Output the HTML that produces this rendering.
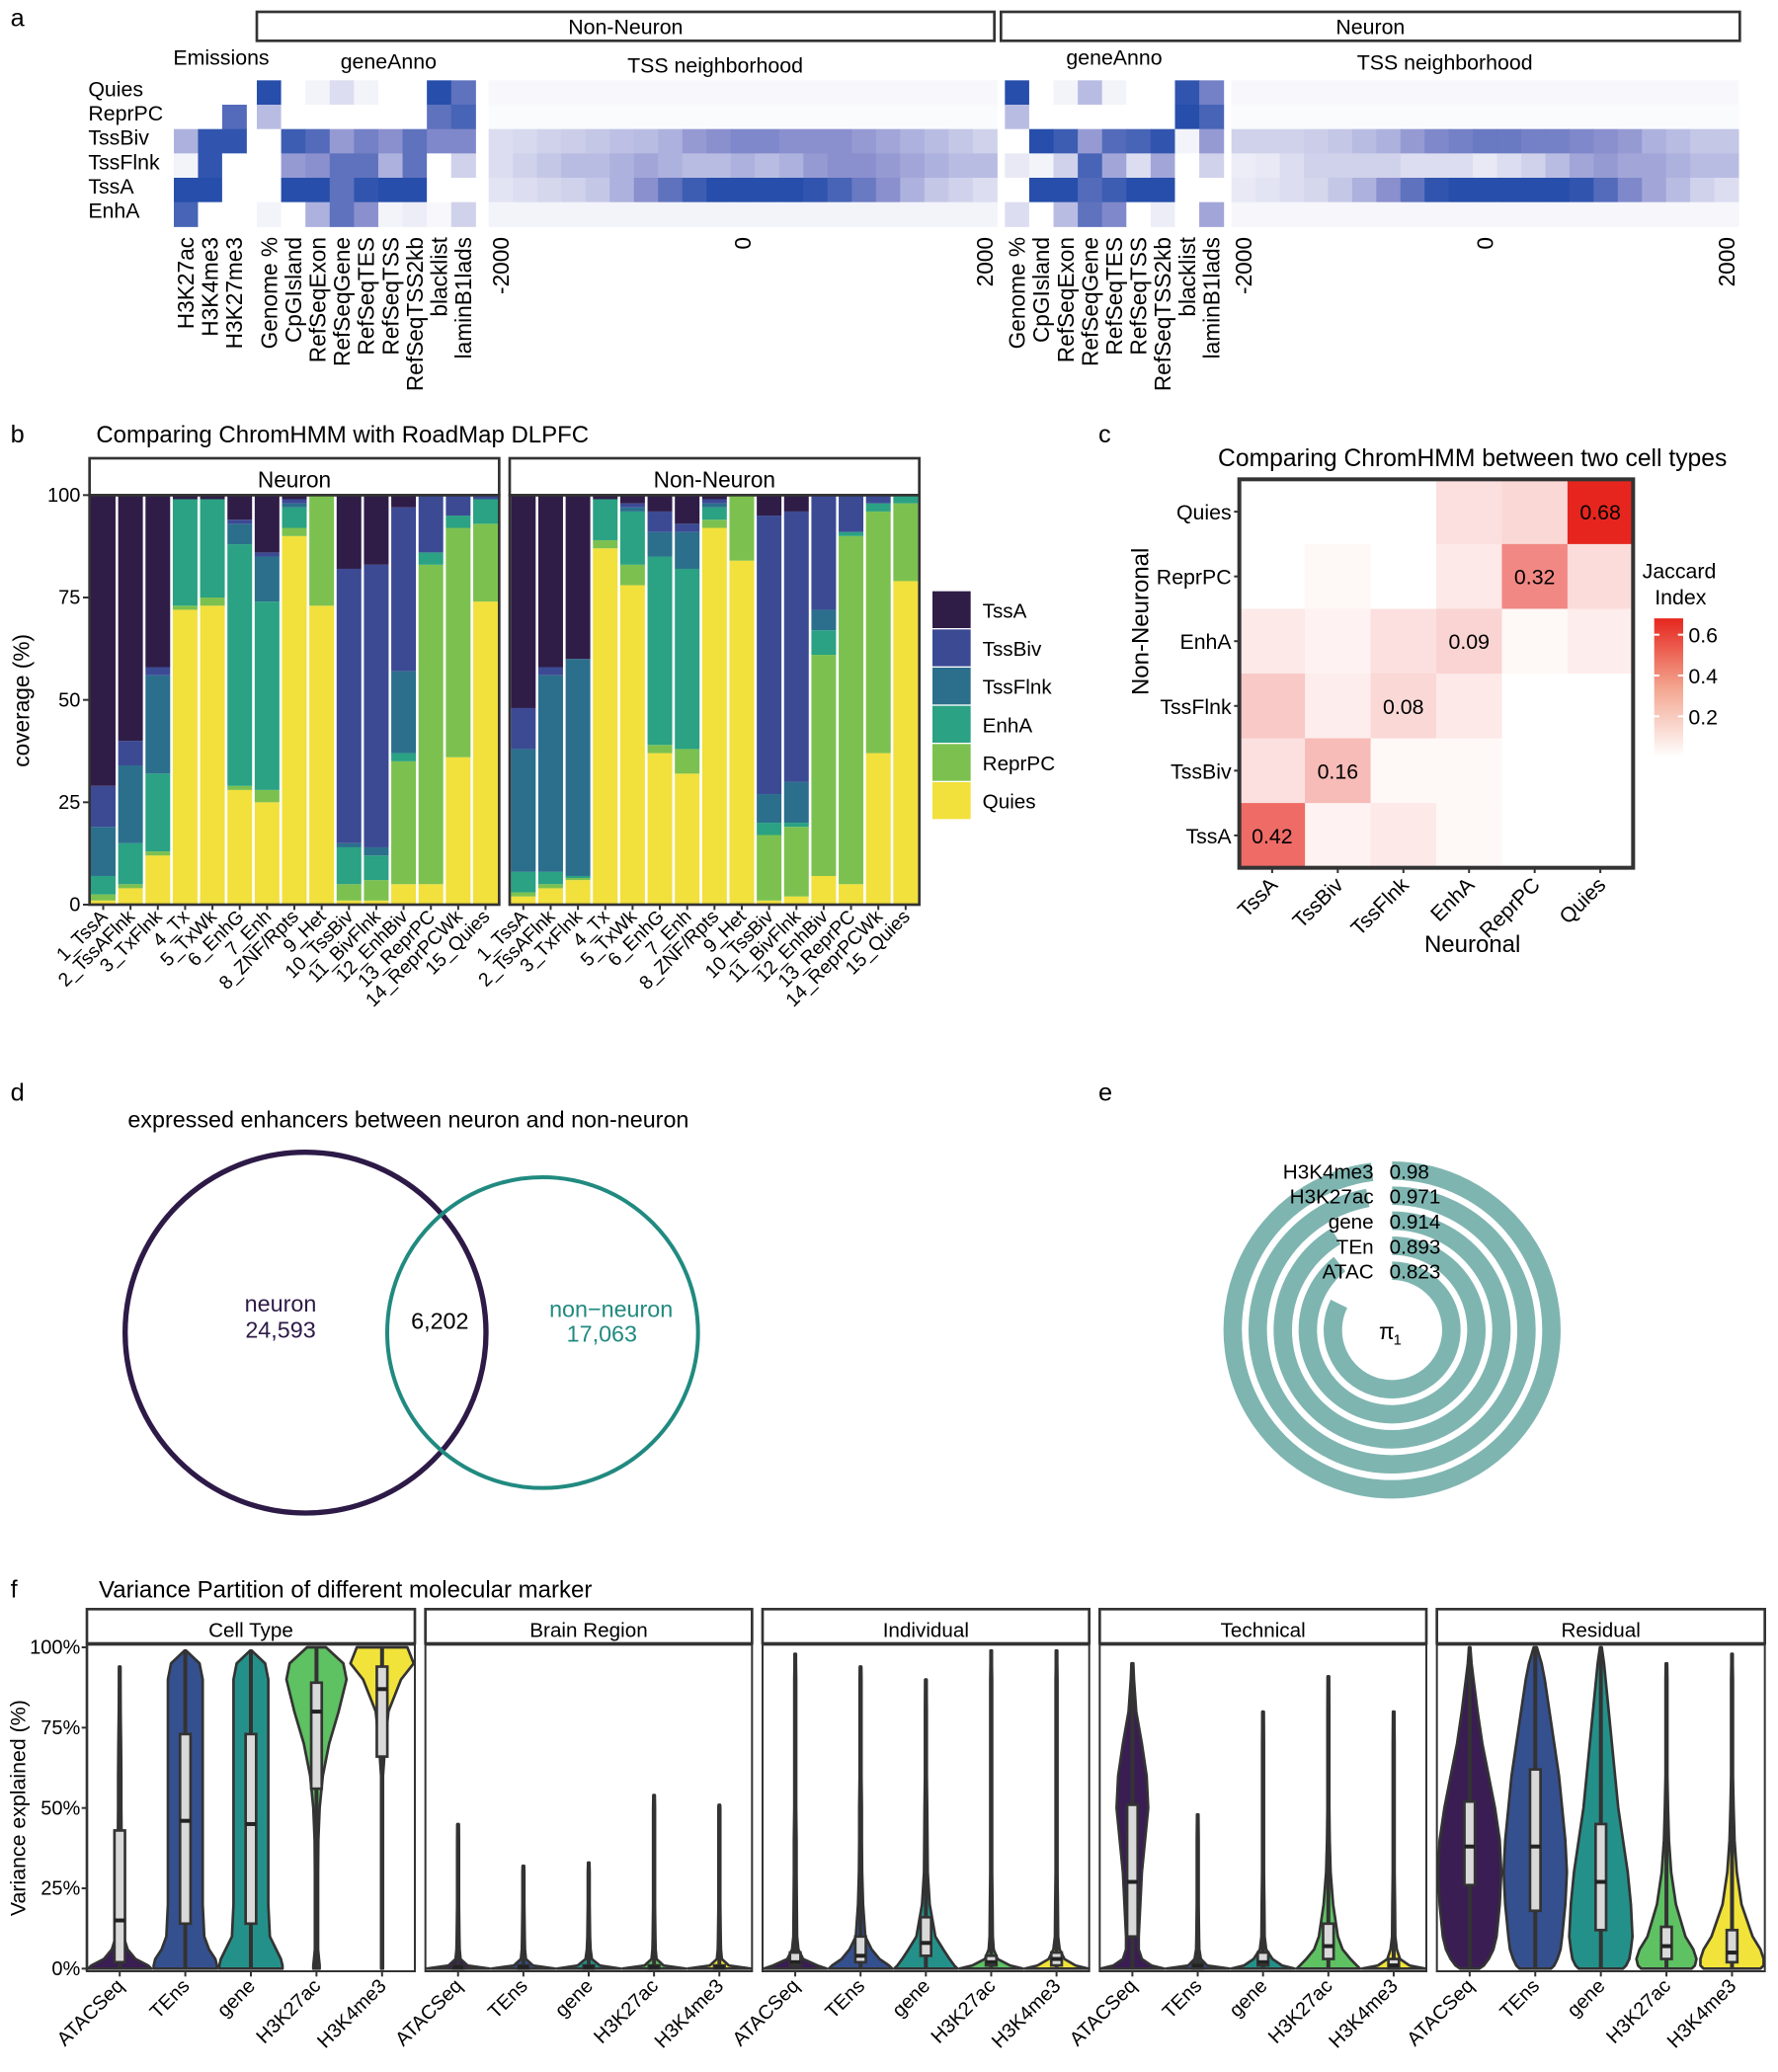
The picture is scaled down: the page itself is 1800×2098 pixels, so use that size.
<!DOCTYPE html>
<html><head><meta charset="utf-8">
<style>
html,body{margin:0;padding:0;background:#fff;}
svg{display:block;font-family:"Liberation Sans",Arial,sans-serif;}
</style></head>
<body>
<svg id="fig" xmlns="http://www.w3.org/2000/svg" width="1800" height="2098" viewBox="0 0 1350 1573.5">
<rect width="1350" height="1573.5" fill="#fff"/>
</svg>
<script>
// ---------- data: panel a ----------
const aRows = ["Quies","ReprPC","TssBiv","TssFlnk","TssA","EnhA"];
const emisCols = ["H3K27ac","H3K4me3","H3K27me3"];
const emisVals = [[0,0,0],[0,0,0.75],[0.35,0.9,0.9],[0.05,0.9,0],[0.95,0.95,0],[0.8,0,0]];
const annoCols = ["Genome %","CpGIsland","RefSeqExon","RefSeqGene","RefSeqTES","RefSeqTSS","RefSeqTSS2kb","blacklist","laminB1lads"];
const annoNonNeuron = [
 [0.95,0,0.05,0.15,0.05,0,0,0.95,0.7],
 [0.3,0,0,0,0,0,0,0.7,0.8],
 [0,0.85,0.75,0.45,0.6,0.5,0.7,0.55,0.55],
 [0,0.45,0.5,0.7,0.7,0.35,0.7,0,0.2],
 [0,0.95,0.95,0.7,0.9,0.95,0.95,0,0],
 [0.05,0,0.35,0.7,0.5,0.05,0.08,0.03,0.2]];
const annoNeuron = [
 [0.95,0,0.05,0.3,0.05,0,0,0.9,0.6],
 [0.3,0,0,0,0,0,0,0.95,0.8],
 [0,0.95,0.85,0.45,0.75,0.8,0.9,0.05,0.45],
 [0.1,0.05,0.2,0.8,0.4,0.15,0.4,0,0.2],
 [0,0.95,0.95,0.75,0.85,0.95,0.95,0,0],
 [0.15,0,0.3,0.7,0.55,0,0.08,0,0.4]];
const tssTicks = ["-2000","0","2000"];
const tssNonNeuron = [
 [0.03,0.03,0.03,0.03,0.03,0.03,0.03,0.03,0.03,0.03,0.03,0.03,0.03,0.03,0.03,0.03,0.03,0.03,0.03,0.03,0.03],
 [0.02,0.02,0.02,0.02,0.02,0.02,0.02,0.02,0.02,0.02,0.02,0.02,0.02,0.02,0.02,0.02,0.02,0.02,0.02,0.02,0.02],
 [0.15,0.17,0.2,0.22,0.25,0.28,0.3,0.35,0.45,0.5,0.55,0.55,0.5,0.5,0.5,0.45,0.4,0.35,0.3,0.25,0.2],
 [0.15,0.2,0.25,0.3,0.3,0.35,0.4,0.35,0.3,0.3,0.35,0.3,0.35,0.45,0.5,0.5,0.45,0.4,0.35,0.3,0.3],
 [0.12,0.15,0.18,0.2,0.25,0.35,0.5,0.7,0.85,0.95,0.95,0.95,0.95,0.9,0.8,0.65,0.5,0.35,0.25,0.2,0.15],
 [0.05,0.05,0.05,0.05,0.05,0.05,0.05,0.05,0.05,0.05,0.05,0.05,0.05,0.05,0.05,0.05,0.05,0.05,0.05,0.05,0.05]];
const tssNeuron = [
 [0.03,0.03,0.03,0.03,0.03,0.03,0.03,0.03,0.03,0.03,0.03,0.03,0.03,0.03,0.03,0.03,0.03,0.03,0.03,0.03,0.03],
 [0.02,0.02,0.02,0.02,0.02,0.02,0.02,0.02,0.02,0.02,0.02,0.02,0.02,0.02,0.02,0.02,0.02,0.02,0.02,0.02,0.02],
 [0.2,0.2,0.2,0.22,0.25,0.3,0.35,0.45,0.55,0.6,0.65,0.65,0.6,0.6,0.55,0.5,0.45,0.35,0.3,0.25,0.25],
 [0.08,0.1,0.15,0.2,0.2,0.2,0.2,0.15,0.15,0.15,0.1,0.15,0.2,0.3,0.4,0.45,0.4,0.4,0.35,0.3,0.3],
 [0.1,0.12,0.15,0.18,0.25,0.35,0.5,0.7,0.9,0.95,0.95,0.95,0.95,0.95,0.9,0.75,0.55,0.4,0.3,0.2,0.15],
 [0.04,0.04,0.04,0.04,0.04,0.04,0.04,0.04,0.04,0.04,0.04,0.04,0.04,0.04,0.04,0.04,0.04,0.04,0.04,0.04,0.04]];
// ---------- data: panel b ----------
const bStates = ["1_TssA","2_TssAFlnk","3_TxFlnk","4_Tx","5_TxWk","6_EnhG","7_Enh","8_ZNF/Rpts","9_Het","10_TssBiv","11_BivFlnk","12_EnhBiv","13_ReprPC","14_ReprPCWk","15_Quies"];
const bSeries = ["Quies","ReprPC","EnhA","TssFlnk","TssBiv","TssA"];
const bTicks = [0,25,50,75,100];
const bNeuron = [[1,1.5,4.5,12,10,71],[4,1,10,19,6,60],[12,1,19,24,2,42],[72,1,26,0,0,1],[73,2,24,0,0,1],[28,1,59,5,1,6],[25,3,46,11,1,14],[90,2,5,1,1,1],[73,27,0,0,0,0],[1,4,9,1,67,18],[1,5,6,2,69,17],[5,30,2,20,40,3],[5,78,3,0,14,0],[36,56,3,0,5,0],[74,19,6,0,1,0]];
const bNonNeuron = [[2,1,5,30,10,52],[4,1,3,48,2,42],[6,0.5,0.5,53,0,40],[87,2,10,0,0,1],[78,5,13,1,1,2],[37,2,46,6,5,4],[32,6,44,9,2,7],[92,2,3,1,1,1],[84,16,0,0,0,0],[1,16,3,7,68,5],[2,17,1,10,66,4],[7,54,6,5,28,0],[5,85,1,0,9,0],[37,59,2,0,2,0],[79,19,2,0,0,0]];
// ---------- data: panel c ----------
const cCols = ["TssA","TssBiv","TssFlnk","EnhA","ReprPC","Quies"];
const cRows = ["Quies","ReprPC","EnhA","TssFlnk","TssBiv","TssA"];
const cVals = [[0,0,0,0.06,0.08,0.68],[0,0.01,0,0.04,0.32,0.07],[0.04,0.02,0.06,0.09,0.01,0.03],[0.12,0.03,0.08,0.04,0,0],[0.06,0.16,0.01,0.01,0,0],[0.42,0.02,0.04,0.01,0,0]];
const cLegendTicks = [0.2,0.4,0.6];
// ---------- data: panel d ----------
const vennCounts = ["24,593","6,202","17,063"];
// ---------- data: panel e ----------
const piLabels = ["H3K4me3","H3K27ac","gene","TEn","ATAC"];
const piValues = [0.98,0.971,0.914,0.893,0.823];
// ---------- data: panel f ----------
const fFacets = ["Cell Type","Brain Region","Individual","Technical","Residual"];
const fMarkers = ["ATACSeq","TEns","gene","H3K27ac","H3K4me3"];
const fLevels = [0,1,3,6,10,20,30,40,50,60,70,80,90,95,100];
const fTicks = [0,25,50,75,100];
const fWidths = [
 [[1,0.9,0.5,0.25,0.12,0.08,0.07,0.06,0.05,0.05,0.04,0.03,0.02,0,0],
  [1,1,0.95,0.75,0.6,0.55,0.55,0.55,0.55,0.55,0.55,0.55,0.55,0.45,0.1],
  [1,1,0.95,0.8,0.6,0.55,0.55,0.55,0.55,0.55,0.55,0.55,0.55,0.45,0.1],
  [0.1,0.1,0.08,0.05,0.05,0.05,0.05,0.06,0.1,0.2,0.4,0.7,0.95,0.85,0.3],
  [0.03,0.03,0.03,0.03,0.03,0.03,0.03,0.03,0.03,0.03,0.1,0.2,0.6,1,0.8]],
 [[1,0.3,0.08,0.05,0.04,0.03,0.03,0.03,0,0,0,0,0,0,0],
  [1,0.3,0.08,0.05,0.04,0.03,0.03,0,0,0,0,0,0,0,0],
  [1,0.35,0.1,0.06,0.04,0.03,0.03,0,0,0,0,0,0,0,0],
  [1,0.3,0.08,0.05,0.04,0.03,0.03,0.03,0.03,0,0,0,0,0,0],
  [1,0.3,0.08,0.05,0.04,0.03,0.03,0.03,0.03,0,0,0,0,0,0]],
 [[1,0.7,0.25,0.1,0.06,0.05,0.04,0.04,0.03,0.03,0.03,0.03,0.03,0.02,0],
  [1,0.9,0.6,0.35,0.15,0.08,0.05,0.04,0.04,0.03,0.03,0.03,0.03,0,0],
  [1,0.9,0.75,0.55,0.3,0.12,0.06,0.05,0.04,0.03,0.03,0.03,0,0,0],
  [1,0.6,0.2,0.08,0.05,0.04,0.03,0.03,0.03,0.03,0.03,0.03,0.03,0.02,0],
  [1,0.6,0.25,0.1,0.05,0.04,0.03,0.03,0.03,0.03,0.03,0.03,0.03,0.02,0]],
 [[1,0.6,0.3,0.2,0.2,0.25,0.3,0.4,0.5,0.45,0.3,0.12,0.05,0.03,0],
  [1,0.3,0.1,0.05,0.04,0.03,0.03,0.03,0,0,0,0,0,0,0],
  [1,0.6,0.3,0.1,0.05,0.04,0.03,0.03,0.03,0.03,0.03,0,0,0,0],
  [1,0.9,0.7,0.45,0.3,0.15,0.07,0.04,0.03,0.03,0.03,0.03,0.02,0,0],
  [1,0.5,0.2,0.1,0.05,0.04,0.03,0.03,0.03,0.03,0.03,0,0,0,0]],
 [[0.3,0.45,0.6,0.75,0.85,0.95,1,0.95,0.8,0.6,0.4,0.25,0.12,0.06,0],
  [0.5,0.6,0.7,0.8,0.85,0.95,1,0.95,0.85,0.75,0.6,0.45,0.3,0.2,0.05],
  [0.7,0.8,0.9,0.95,1,0.95,0.85,0.7,0.55,0.45,0.35,0.25,0.15,0.1,0.03],
  [0.8,0.9,0.95,0.85,0.6,0.3,0.15,0.08,0.05,0.03,0.03,0.03,0.03,0.02,0],
  [0.9,1,1,0.9,0.65,0.3,0.15,0.08,0.05,0.03,0.03,0.03,0.03,0.02,0]]];
const fMax = [[94,99,99,100,100],[45,32,33,54,51],[98,94,90,99,99],[95,48,80,91,80],[100,100,100,95,98]];
const fQ1 = [[2,14,14,56,66],[0,0,0,0,0],[1,2,4,1,1],[10,0,1,3,0],[26,18,12,3,2]];
const fMed = [[15,46,45,80,87],[0.5,0.5,0.5,0.5,0.5],[2,4,8,2,3],[27,1,2,7,1],[38,38,27,7,5]];
const fQ3 = [[43,73,73,89,94],[1,1,1,1,1],[5,10,16,4,5],[51,2,5,14,3],[52,62,45,13,12]];

// ---------- helpers ----------
const NS = 'http://www.w3.org/2000/svg';
const svg = document.getElementById('fig');
function mk(tag, attrs, parent){ const e=document.createElementNS(NS,tag); for(const k in attrs) e.setAttribute(k,attrs[k]); (parent||svg).appendChild(e); return e; }
function tx(x,y,s,attrs,parent){ const a=Object.assign({x:x,y:y,'font-size':15,fill:'#000'},attrs||{}); const e=mk('text',a,parent); e.textContent=s; return e; }
function lerp(a,b,t){return a+(b-a)*t;}
function mix(c1,c2,t){return 'rgb('+Math.round(lerp(c1[0],c2[0],t))+','+Math.round(lerp(c1[1],c2[1],t))+','+Math.round(lerp(c1[2],c2[2],t))+')';}
function blue(v){ if(v<0.5) return mix([255,255,255],[138,143,206],v/0.5); return mix([138,143,206],[27,71,166],(v-0.5)/0.5); }
function red(v){ const t=Math.min(1,v/0.68); return mix([255,255,255],[230,38,30],Math.pow(t,0.8)); }

// ---------- panel labels ----------
[["a",8,20],["b",8,336],["c",834,336],["d",8,836],["e",834,836],["f",8,1213]].forEach(p=>{
  const e=tx(p[1],p[2],p[0],{'font-size':19});
  
  
});

// ---------- panel a ----------
(function(){
  const g=mk('g',{});
  
  
  const y0=61, rh=18.5;
  [["Non-Neuron",195,755],["Neuron",760,1321]].forEach(s=>{
    const r=mk('rect',{x:s[1],y:9,width:s[2]-s[1],height:22,fill:'#fff',stroke:'#333','stroke-width':2},g);
    
    
    tx((s[1]+s[2])/2,26,s[0],{'text-anchor':'middle','font-size':16},g);
  });
  tx(168,49,"Emissions",{'text-anchor':'middle','font-size':16},g);
  tx(295,52,"geneAnno",{'text-anchor':'middle','font-size':16},g);
  tx(543,55,"TSS neighborhood",{'text-anchor':'middle','font-size':16},g);
  tx(846,49,"geneAnno",{'text-anchor':'middle','font-size':16},g);
  tx(1097,53,"TSS neighborhood",{'text-anchor':'middle','font-size':16},g);
  aRows.forEach((r,i)=>{
    const t=tx(67,y0+i*rh+12,r,{'font-size':16},g);
    
  });
  function block(x0,x1,cols,vals,labels,name){
    const w=(x1-x0)/cols;
    vals.forEach((row,i)=>row.forEach((v,j)=>{
      const c=mk('rect',{x:x0+j*w,y:y0+i*rh,width:w+0.4,height:rh+0.4,fill:blue(v)},g);
      
      
    }));
    if(labels){ labels.forEach((l,j)=>{
      const cx=x0+(j+0.5)*w+6;
      tx(cx,180,l,{'text-anchor':'end','font-size':17,transform:'rotate(-90 '+cx+' 180)'},g);
    });}
    else {
      [0,10,20].forEach((j,k)=>{
        const cx=x0+(j+0.5)*w+6;
        tx(cx,180,tssTicks[k],{'text-anchor':'end','font-size':17,transform:'rotate(-90 '+cx+' 180)'},g);
      });
    }
  }
  block(132,187,3,emisVals,emisCols,'emission');
  block(195,361,9,annoNonNeuron,annoCols,'geneanno-nonneuron');
  block(371,757,21,tssNonNeuron,null,'tss-nonneuron');
  block(763,929,9,annoNeuron,annoCols,'geneanno-neuron');
  block(935,1320,21,tssNeuron,null,'tss-neuron');
})();

// ---------- panel b ----------
(function(){
  const g=mk('g',{});
  
  
  const colors=["#f2e03c","#7cc150","#2aa283","#2b6f8c","#3c4a94","#2f1d48"];
  const yTop=376,yBot=687;
  const ys=v=>yBot-(v/100)*(yBot-yTop);
  tx(73,336,"Comparing ChromHMM with RoadMap DLPFC",{'font-size':18},g);
  const yl=tx(22,532,"coverage (%)",{'text-anchor':'middle','font-size':17,transform:'rotate(-90 22 532)'},g);
  
  bTicks.forEach(t=>{
    tx(61,ys(t)+5,String(t),{'text-anchor':'end','font-size':15},g);
    mk('line',{x1:63,x2:68,y1:ys(t),y2:ys(t),stroke:'#333','stroke-width':1.5},g);
  });
  [["Neuron",68,379,bNeuron],["Non-Neuron",387,698,bNonNeuron]].forEach(p=>{
    const x0=p[1],x1=p[2],data=p[3],bw=(x1-x0)/15;
    const s=mk('rect',{x:x0,y:348,width:x1-x0,height:28,fill:'#fff',stroke:'#333','stroke-width':2},g);
    
    
    tx((x0+x1)/2,370,p[0],{'text-anchor':'middle','font-size':17},g);
    data.forEach((segs,i)=>{
      let cum=0;
      segs.forEach((v,k)=>{
        if(v<=0) return;
        const b=mk('rect',{x:x0+i*bw+1,y:ys(cum+v),width:bw-2,height:ys(cum)-ys(cum+v),fill:colors[k]},g);
        
        
        cum+=v;
      });
      const cx=x0+(i+0.5)*bw;
      mk('line',{x1:cx,x2:cx,y1:yBot,y2:yBot+4,stroke:'#333','stroke-width':1.5},g);
      tx(cx+4,yBot+10,bStates[i],{'text-anchor':'end','font-size':14.5,transform:'rotate(-45 '+(cx+4)+' '+(yBot+10)+')'},g);
    });
    mk('rect',{x:x0,y:yTop,width:x1-x0,height:yBot-yTop,fill:'none',stroke:'#333','stroke-width':2},g);
  });
  const order=[5,4,3,2,1,0];
  order.forEach((k,i)=>{
    const y=449+i*29;
    const r=mk('rect',{x:708,y:y,width:29,height:28,fill:colors[k]},g);
    
    
    tx(746,y+20,bSeries[k],{'font-size':15.5},g);
  });
})();

// ---------- panel c ----------
(function(){
  const g=mk('g',{});
  
  
  const x0=941,x1=1240,y0=364,y1=659,cw=(x1-x0)/6,ch=(y1-y0)/6;
  tx(1118,354,"Comparing ChromHMM between two cell types",{'text-anchor':'middle','font-size':18.5},g);
  cVals.forEach((row,i)=>row.forEach((v,j)=>{
    const c=mk('rect',{x:x0+j*cw,y:y0+i*ch,width:cw+0.3,height:ch+0.3,fill:red(v)},g);
    
    
    if(cRows[i]===cCols[j]) tx(x0+(j+0.5)*cw,y0+(i+0.5)*ch+6,v.toFixed(2),{'text-anchor':'middle','font-size':16},g);
  }));
  mk('rect',{x:x0,y:y0,width:x1-x0,height:y1-y0,fill:'none',stroke:'#333','stroke-width':3},g);
  cRows.forEach((r,i)=>{
    const y=y0+(i+0.5)*ch;
    tx(935,y+6,r,{'text-anchor':'end','font-size':16},g);
    mk('line',{x1:937,x2:941,y1:y,y2:y,stroke:'#333','stroke-width':1.5},g);
  });
  cCols.forEach((c,j)=>{
    const x=x0+(j+0.5)*cw;
    mk('line',{x1:x,x2:x,y1:y1,y2:y1+4,stroke:'#333','stroke-width':1.5},g);
    tx(x+5,y1+14,c,{'text-anchor':'end','font-size':16,transform:'rotate(-45 '+(x+5)+' '+(y1+14)+')'},g);
  });
  tx(1118,723,"Neuronal",{'text-anchor':'middle','font-size':18},g);
  tx(872,472,"Non-Neuronal",{'text-anchor':'middle','font-size':18,transform:'rotate(-90 872 472)'},g);
  tx(1275,439,"Jaccard",{'text-anchor':'middle','font-size':16},g);
  tx(1276,459,"Index",{'text-anchor':'middle','font-size':16},g);
  const defs=mk('defs',{},g);
  const lg=mk('linearGradient',{id:'jg',x1:0,y1:1,x2:0,y2:0},defs);
  mk('stop',{offset:'0','stop-color':'#fff'},lg);
  mk('stop',{offset:'0.5','stop-color':'#f3a58f'},lg);
  mk('stop',{offset:'1','stop-color':'#e6261e'},lg);
  const ly=v=>575-v*155;
  const bar=mk('rect',{x:1256,y:ly(0.68),width:22,height:ly(0)-ly(0.68),fill:'url(#jg)'},g);
  
  
  cLegendTicks.forEach(t=>{
    mk('line',{x1:1256,x2:1260,y1:ly(t),y2:ly(t),stroke:'#fff','stroke-width':1.5},g);
    mk('line',{x1:1274,x2:1278,y1:ly(t),y2:ly(t),stroke:'#fff','stroke-width':1.5},g);
    tx(1282,ly(t)+6,t.toFixed(1),{'font-size':16},g);
  });
})();

// ---------- panel d ----------
(function(){
  const g=mk('g',{});
  
  
  tx(97,856,"expressed enhancers between neuron and non-neuron",{'font-size':17.5},g);
  const c1=mk('circle',{cx:232,cy:1012,r:137,fill:'none',stroke:'#2d1a47','stroke-width':4},g);
  
  
  const c2=mk('circle',{cx:412,cy:1012,r:118,fill:'none',stroke:'#218a80','stroke-width':3},g);
  
  
  tx(213,996,"neuron",{'text-anchor':'middle','font-size':17.5,fill:'#2d1a47'},g);
  tx(213,1016,vennCounts[0],{'text-anchor':'middle','font-size':17.5,fill:'#2d1a47'},g);
  tx(334,1009,vennCounts[1],{'text-anchor':'middle','font-size':17.5},g);
  tx(464,1000,"non\u2212neuron",{'text-anchor':'middle','font-size':17.5,fill:'#218a80'},g);
  tx(457,1019,vennCounts[2],{'text-anchor':'middle','font-size':17.5,fill:'#218a80'},g);
})();

// ---------- panel e ----------
(function(){
  const g=mk('g',{});
  
  
  const cx=1057,cy=1010;
  const radii=[121,102,83,64,45];
  piValues.forEach((v,i)=>{
    const r=radii[i],th=v*2*Math.PI;
    const ex=cx+r*Math.sin(th),ey=cy-r*Math.cos(th);
    const large=th>Math.PI?1:0;
    const p=mk('path',{d:'M'+cx+' '+(cy-r)+' A'+r+' '+r+' 0 '+large+' 1 '+ex.toFixed(2)+' '+ey.toFixed(2),fill:'none',stroke:'#7fb5b0','stroke-width':14},g);
    
    
    tx(1043,cy-r+6,piLabels[i],{'text-anchor':'end','font-size':15.5},g);
    tx(1055,cy-r+6,String(v),{'font-size':15.5},g);
  });
  tx(1047,1017,"\u03c0",{'font-size':17},g);
  tx(1058,1021,"1",{'font-size':11},g);
})();

// ---------- panel f ----------
(function(){
  const g=mk('g',{});
  
  
  const colors=["#3a1d53","#35508f","#23918a","#5ec162","#f2e33a"];
  const yT=1251,yB=1495;
  const ys=v=>yB-(v/100)*(yB-yT);
  const facetX=[[66,315],[323,571],[579,827],[835,1083],[1091,1340]];
  tx(75,1213,"Variance Partition of different molecular marker",{'font-size':18},g);
  tx(19,1373,"Variance explained (%)",{'text-anchor':'middle','font-size':16,transform:'rotate(-90 19 1373)'},g);
  fTicks.forEach(t=>{
    tx(61,ys(t)+5,t+"%",{'text-anchor':'end','font-size':15},g);
    mk('line',{x1:62,x2:66,y1:ys(t),y2:ys(t),stroke:'#333','stroke-width':1.5},g);
  });
  fFacets.forEach((f,fi)=>{
    const x0=facetX[fi][0],x1=facetX[fi][1],w=(x1-x0)/5;
    const s=mk('rect',{x:x0,y:1222,width:x1-x0,height:26,fill:'#fff',stroke:'#333','stroke-width':2},g);
    
    
    tx((x0+x1)/2,1243,f,{'text-anchor':'middle','font-size':15.5},g);
    mk('rect',{x:x0,y:1249,width:x1-x0,height:248,fill:'none',stroke:'#333','stroke-width':1.5},g);
    fMarkers.forEach((m,mi)=>{
      const cx=x0+(mi+0.5)*w, hw=24;
      const wd=fWidths[fi][mi];
      const right=[],left=[];
      for(let k=0;k<fLevels.length;k++){
        if(fLevels[k]>fMax[fi][mi]) break;
        const ww=Math.max(wd[k],0.02)*hw;
        right.push([cx+ww,ys(fLevels[k])]);
      }
      right.push([cx+0.5,ys(fMax[fi][mi])]);
      for(let k=right.length-1;k>=0;k--) left.push([2*cx-right[k][0],right[k][1]]);
      const pts=right.concat(left);
      const d='M'+pts.map(p=>p[0].toFixed(1)+' '+p[1].toFixed(1)).join(' L')+'Z';
      const v=mk('path',{d:d,fill:colors[mi],stroke:'#333','stroke-width':2,'stroke-linejoin':'round'},g);
      
      
      mk('line',{x1:cx,x2:cx,y1:ys(0),y2:ys(fMax[fi][mi]),stroke:'#333','stroke-width':3},g);
      const q1=ys(fQ1[fi][mi]),q3=ys(fQ3[fi][mi]);
      const bx=mk('rect',{x:cx-4,y:q3,width:8,height:Math.max(1,q1-q3),fill:'#d9d9d9',stroke:'#333','stroke-width':2},g);
      
      
      mk('line',{x1:cx-4,x2:cx+4,y1:ys(fMed[fi][mi]),y2:ys(fMed[fi][mi]),stroke:'#222','stroke-width':3},g);
      mk('line',{x1:cx,x2:cx,y1:yB+2,y2:yB+6,stroke:'#333','stroke-width':1.5},g);
      tx(cx+4,yB+14,m,{'text-anchor':'end','font-size':15,transform:'rotate(-45 '+(cx+4)+' '+(yB+14)+')'},g);
    });
  });
  mk('line',{x1:66,x2:66,y1:1249,y2:1497,stroke:'#333','stroke-width':2},g);
})();
</script>
</body></html>
